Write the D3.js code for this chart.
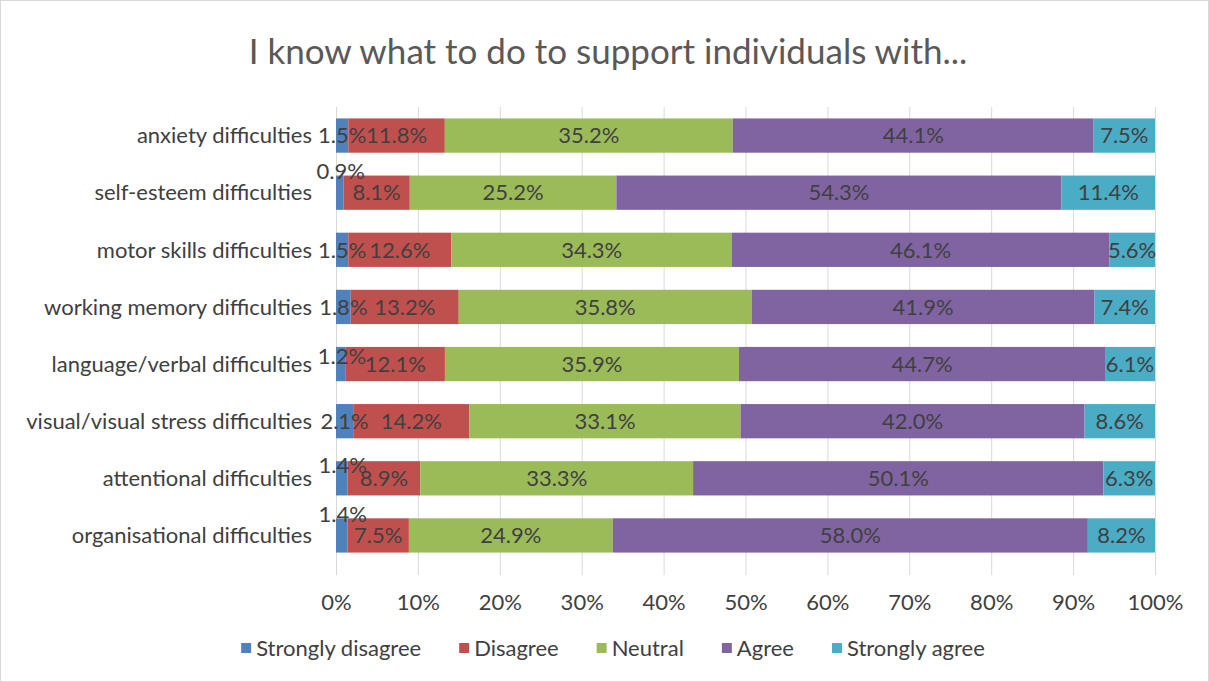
<!DOCTYPE html>
<html><head><meta charset="utf-8">
<script src="https://cdn.jsdelivr.net/npm/d3@7"></script>
<style>body{margin:0;background:#fff;} svg{display:block;font-family:Lato,"Open Sans",sans-serif;}</style>
</head><body>
<svg id="c" width="1209" height="682"></svg>
<script>
const title = "I know what to do to support individuals with...";
const categories = ["anxiety difficulties","self-esteem difficulties","motor skills difficulties","working memory difficulties","language/verbal difficulties","visual/visual stress difficulties","attentional difficulties","organisational difficulties"];
const seriesNames = ["Strongly disagree","Disagree","Neutral","Agree","Strongly agree"];
const stronglyDisagree = [1.5,0.9,1.5,1.8,1.2,2.1,1.4,1.4];
const disagree = [11.8,8.1,12.6,13.2,12.1,14.2,8.9,7.5];
const neutral = [35.2,25.2,34.3,35.8,35.9,33.1,33.3,24.9];
const agree = [44.1,54.3,46.1,41.9,44.7,42.0,50.1,58.0];
const stronglyAgree = [7.5,11.4,5.6,7.4,6.1,8.6,6.3,8.2];
const tickValues = [0,0.1,0.2,0.3,0.4,0.5,0.6,0.7,0.8,0.9,1.0];
const colors = ["#4F81BD","#C0504D","#9BBB59","#8064A2","#4BACC6"];

const seriesValues = [stronglyDisagree, disagree, neutral, agree, stronglyAgree];
const rows = categories.map((c,i)=>{
  const o={cat:c};
  seriesNames.forEach((s,j)=>o[s]=seriesValues[j][i]);
  return o;
});
const FS = 22;
const svg = d3.select("#c");
svg.append("rect").attr("x",0.5).attr("y",0.5).attr("width",1208).attr("height",681).attr("fill","#fff").attr("stroke","#d9d9d9");

svg.append("text").attr("x",608).attr("y",64).attr("text-anchor","middle")
  .attr("font-size",35).attr("fill","#595959").text(title);

const x = d3.scaleLinear().domain([0,1]).range([336,1155]);
const y = d3.scaleBand().domain(categories).range([107,564]).paddingInner(0.4).paddingOuter(0.2);

// gridlines
svg.append("g").selectAll("line").data(tickValues).join("line")
  .attr("x1",d=>x(d)+0.5).attr("x2",d=>x(d)+0.5).attr("y1",107).attr("y2",575)
  .attr("stroke","#d9d9d9").attr("stroke-width",1);

const stack = d3.stack().keys(seriesNames).offset(d3.stackOffsetExpand);
const stacked = stack(rows);

const g = svg.append("g");
stacked.forEach((s,j)=>{
  g.append("g").attr("fill",colors[j]).selectAll("rect").data(s).join("rect")
    .attr("x",d=>x(d[0])).attr("width",d=>x(d[1])-x(d[0]))
    .attr("y",d=>y(d.data.cat)).attr("height",y.bandwidth());
});

// data labels (small first-segment labels lifted above the bar where the chart did so)
const raise = {"self-esteem difficulties":21,"language/verbal difficulties":8,"attentional difficulties":13,"organisational difficulties":21};
stacked.forEach((s,j)=>{
  g.append("g").selectAll("text").data(s).join("text")
    .attr("x",d=>{ const cx=(x(d[0])+x(d[1]))/2; return j===0? cx+(raise[d.data.cat]?1:0): cx; })
    .attr("y",d=>y(d.data.cat)+y.bandwidth()/2 - (j===0 ? (raise[d.data.cat]||0) : 0))
    .attr("dy","0.35em").attr("text-anchor","middle").attr("font-size",FS).attr("fill","#404040")
    .text((d,i)=>seriesValues[j][i].toFixed(1)+"%");
});

// category axis
svg.append("g").selectAll("text").data(categories).join("text")
  .attr("x",312).attr("y",d=>y(d)+y.bandwidth()/2).attr("dy","0.35em")
  .attr("text-anchor","end").attr("font-size",FS).attr("fill","#404040").text(d=>d);

// x axis labels
const xa = svg.append("g").attr("transform","translate(0,583)")
  .call(d3.axisBottom(x).tickValues(tickValues).tickFormat(d3.format(".0%")).tickSize(0).tickPadding(11));
xa.select(".domain").remove();
xa.selectAll("text").attr("font-size",FS).attr("fill","#404040").attr("font-family","Lato,'Open Sans',sans-serif");

// legend
const lg = svg.append("g");
const items = lg.selectAll("g").data(seriesNames).join("g");
items.append("rect").attr("width",10).attr("height",10).attr("y",-5).attr("fill",(d,i)=>colors[i]);
items.append("text").attr("x",15).attr("dy","0.35em").attr("font-size",FS).attr("fill","#404040").text(d=>d);
let widths=[]; items.each(function(){ widths.push(this.getBBox().width); });
const gap=38; const total=d3.sum(widths)+gap*(widths.length-1);
let cx=613-total/2;
items.attr("transform",(d,i)=>{ const t=`translate(${cx},648)`; cx+=widths[i]+gap; return t; });
</script>
</body></html>
